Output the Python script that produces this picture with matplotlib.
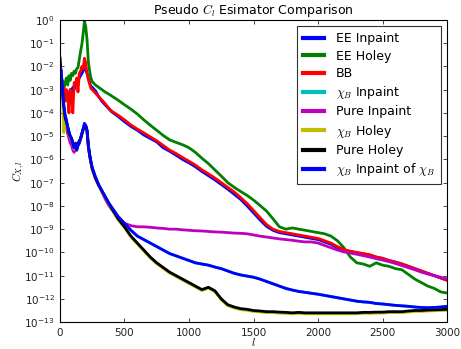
import numpy as np
import matplotlib
matplotlib.use("Agg")
import matplotlib.pyplot as plt

plt.rcParams['font.family'] = ['DejaVu Sans']
plt.rcParams['mathtext.fontset'] = 'cm'

ell = [1, 10, 20, 30, 40, 50, 60, 70, 80, 90, 100, 110, 120, 130, 140, 150, 160, 170, 180, 190,
       200, 210, 220, 230, 240, 250, 275, 300, 325, 350, 375, 400,
       450, 500, 550, 600, 650, 700, 750, 800, 850, 900, 950, 1000, 1050, 1100, 1150, 1200,
       1250, 1300, 1350, 1400, 1450, 1500, 1550, 1600, 1650, 1700, 1750, 1800, 1850, 1900,
       1950, 2000, 2050, 2100, 2150, 2200, 2250, 2300, 2350, 2400, 2450, 2500, 2550, 2600,
       2650, 2700, 2750, 2800, 2850, 2900, 2950, 3000]

# log10 of C_{X,l}
ee_inpaint = [-3.3, -2.9, -3.2, -3.1, -3.4, -3.1, -3.3, -3.2, -3.0, -3.1,
              -2.9, -3.0, -2.8, -2.7, -2.6, -2.5, -2.4, -2.3, -2.2, -2.0,
              -2.1, -2.3, -2.5, -2.7, -2.85, -2.9,
              -3.05, -3.3, -3.5, -3.65, -3.8, -3.95,
              -4.15, -4.38, -4.58, -4.75, -4.95, -5.1, -5.25, -5.5, -5.65, -5.82,
              -6.0, -6.15, -6.32, -6.52, -6.7, -6.88, -7.08, -7.28, -7.5, -7.72,
              -8.0, -8.3, -8.6, -8.88, -9.05, -9.15, -9.2, -9.25, -9.3, -9.35,
              -9.4, -9.45, -9.55, -9.65, -9.8, -9.9, -9.97, -10.02, -10.07, -10.12,
              -10.2, -10.27, -10.35, -10.42, -10.5, -10.6, -10.7, -10.8, -10.9, -11.0,
              -11.1, -11.2]

ee_holey = [-2.6, -2.9, -2.6, -3.0, -2.7, -2.5, -2.8, -2.4, -2.6, -2.3,
            -2.4, -2.2, -2.3, -2.1, -2.05, -1.7, -1.35, -1.05, -0.6, -0.05,
            -0.3, -0.85, -1.8, -2.2, -2.5, -2.65,
            -2.8, -2.9, -3.0, -3.1, -3.18, -3.27,
            -3.45, -3.65, -3.84, -4.05, -4.3, -4.53, -4.75, -4.97, -5.16, -5.27,
            -5.37, -5.5, -5.7, -5.95, -6.18, -6.45, -6.72, -7.0, -7.2, -7.38,
            -7.55, -7.75, -7.98, -8.22, -8.55, -8.9, -9.0, -8.95, -9.0, -9.05,
            -9.1, -9.15, -9.2, -9.3, -9.5, -9.8, -10.2, -10.45, -10.5, -10.6,
            -10.45, -10.55, -10.6, -10.7, -10.75, -10.95, -11.15, -11.3, -11.45, -11.55,
            -11.7, -11.75]

bb = [-3.0, -2.8, -3.3, -2.9, -3.5, -3.0, -3.3, -4.0, -3.0, -3.2,
      -4.0, -2.7, -2.8, -2.5, -3.1, -2.3, -2.2, -2.0, -2.1, -1.65,
      -1.85, -2.3, -2.55, -2.75, -2.95, -3.0,
      -3.15, -3.3, -3.45, -3.6, -3.78, -3.92,
      -4.1, -4.3, -4.52, -4.7, -4.86, -5.03, -5.2, -5.4, -5.6, -5.75,
      -5.92, -6.08, -6.25, -6.45, -6.62, -6.8, -7.0, -7.2, -7.4, -7.64,
      -7.9, -8.2, -8.5, -8.8, -9.0, -9.1, -9.15, -9.2, -9.25, -9.3,
      -9.35, -9.4, -9.5, -9.6, -9.75, -9.88, -9.95, -10.0, -10.05, -10.1,
      -10.2, -10.25, -10.35, -10.42, -10.5, -10.6, -10.7, -10.8, -10.9, -11.0,
      -11.1, -11.2]

chib_inpaint_of_chib = [-2.0, -2.2, -3.0, -3.7, -4.1, -4.3, -4.6, -4.8, -5.0, -5.1,
                        -5.3, -5.5, -5.3, -5.6, -5.4, -5.3, -5.1, -4.9, -4.7, -4.45,
                        -4.55, -4.75, -5.4, -5.8, -6.1, -6.35,
                        -6.75, -7.1, -7.35, -7.6, -7.85, -8.05,
                        -8.45, -8.75, -9.05, -9.3, -9.45, -9.6, -9.75, -9.9, -10.05, -10.15,
                        -10.25, -10.35, -10.45, -10.5, -10.55, -10.63, -10.7, -10.8, -10.9, -10.97,
                        -11.02, -11.07, -11.15, -11.25, -11.35, -11.45, -11.55, -11.62, -11.68, -11.72,
                        -11.76, -11.8, -11.85, -11.9, -11.95, -12.0, -12.05, -12.1, -12.13, -12.15,
                        -12.2, -12.22, -12.25, -12.28, -12.3, -12.32, -12.35, -12.37, -12.38, -12.37,
                        -12.35, -12.32]

chib_inpaint = [-2.0, -2.2, -3.0, -3.7, -4.1, -4.3, -4.6, -4.8, -5.0, -5.1,
                -5.3, -5.5, -5.3, -5.6, -5.4, -5.3, -5.1, -4.9, -4.7, -4.45,
                -4.55, -4.75, -5.4, -5.8, -6.1, -6.35,
                -6.75, -7.1, -7.35, -7.6, -7.85, -8.05,
                -8.45, -8.75, -9.05, -9.3, -9.45, -9.6, -9.75, -9.9, -10.05, -10.15,
                -10.25, -10.35, -10.45, -10.5, -10.55, -10.63, -10.7, -10.8, -10.9, -10.97,
                -11.02, -11.07, -11.15, -11.25, -11.35, -11.45, -11.55, -11.62, -11.68, -11.72,
                -11.76, -11.8, -11.85, -11.9, -11.95, -12.0, -12.05, -12.1, -12.13, -12.15,
                -12.2, -12.22, -12.25, -12.28, -12.3, -12.32, -12.35, -12.37, -12.38, -12.37,
                -12.35, -12.32]

pure_inpaint = [-2.5, -2.8, -3.3, -3.9, -4.3, -4.6, -4.9, -5.1, -5.3, -5.4,
                -5.6, -5.7, -5.5, -5.6, -5.4, -5.3, -5.1, -4.9, -4.7, -4.5,
                -4.6, -4.8, -5.45, -5.85, -6.15, -6.4,
                -6.8, -7.1, -7.4, -7.7, -7.95, -8.15,
                -8.5, -8.75, -8.85, -8.9, -8.9, -8.92, -8.95, -8.97, -9.0, -9.0,
                -9.03, -9.05, -9.07, -9.08, -9.1, -9.12, -9.13, -9.15, -9.17, -9.18,
                -9.2, -9.25, -9.3, -9.34, -9.38, -9.42, -9.45, -9.48, -9.52, -9.55,
                -9.55, -9.6, -9.7, -9.8, -9.9, -9.98, -10.03, -10.08, -10.14, -10.2,
                -10.27, -10.33, -10.4, -10.48, -10.57, -10.66, -10.75, -10.85, -10.93, -11.0,
                -11.07, -11.15]

chib_holey = [-1.7, -2.45, -3.05, -4.85, -4.25, -4.45, -4.65, -4.95, -5.05, -5.15,
              -5.35, -5.55, -5.55, -5.45, -5.35, -5.25, -5.15, -4.95, -4.75, -4.6,
              -4.6, -4.8, -5.45, -5.85, -6.15, -6.45,
              -6.84, -7.14, -7.39, -7.64, -7.89, -8.14,
              -8.59, -8.94, -9.34, -9.64, -9.94, -10.24, -10.49, -10.69, -10.89, -11.04,
              -11.19, -11.34, -11.49, -11.64, -11.54, -11.69, -12.04, -12.29, -12.39, -12.46,
              -12.49, -12.54, -12.56, -12.59, -12.59, -12.61, -12.62, -12.64, -12.62, -12.64,
              -12.64, -12.64, -12.64, -12.64, -12.64, -12.64, -12.64, -12.64, -12.62, -12.62,
              -12.61, -12.61, -12.59, -12.59, -12.59, -12.56, -12.54, -12.54, -12.52, -12.51,
              -12.5, -12.49]

pure_holey = [-1.65, -2.4, -3.0, -3.7, -4.2, -4.4, -4.6, -4.9, -5.0, -5.1,
              -5.3, -5.5, -5.5, -5.4, -5.3, -5.2, -5.1, -4.9, -4.7, -4.55,
              -4.55, -4.75, -5.4, -5.8, -6.1, -6.4,
              -6.8, -7.1, -7.35, -7.6, -7.85, -8.1,
              -8.55, -8.9, -9.3, -9.6, -9.9, -10.2, -10.45, -10.65, -10.85, -11.0,
              -11.15, -11.3, -11.45, -11.6, -11.5, -11.65, -12.0, -12.25, -12.35, -12.42,
              -12.45, -12.5, -12.52, -12.55, -12.55, -12.57, -12.58, -12.6, -12.58, -12.6,
              -12.6, -12.6, -12.6, -12.6, -12.6, -12.6, -12.6, -12.6, -12.58, -12.58,
              -12.57, -12.57, -12.55, -12.55, -12.55, -12.52, -12.5, -12.5, -12.48, -12.47,
              -12.46, -12.45]

labels = ['EE Inpaint', 'EE Holey', 'BB', r'$\chi_B$ Inpaint', 'Pure Inpaint',
          r'$\chi_B$ Holey', 'Pure Holey', r'$\chi_B$ Inpaint of $\chi_B$']
series = [ee_inpaint, ee_holey, bb, chib_inpaint, pure_inpaint, chib_holey, pure_holey,
          chib_inpaint_of_chib]
colors = ['b', 'g', 'r', 'c', 'm', 'y', 'k', 'b']

fig = plt.figure(figsize=(4.61, 3.49), dpi=100)
ax = fig.add_axes([0.130, 0.077, 0.840, 0.866])

for vals, lab, col in zip(series, labels, colors):
    ax.plot(ell, np.power(10.0, vals), color=col, lw=2.0, label=lab)

ax.set_yscale('log')
ax.set_xlim(0, 3000)
ax.set_ylim(1e-13, 1e0)
ax.set_yticks([10.0 ** k for k in range(-13, 1)])
ax.minorticks_off()
ax.tick_params(direction='in', top=True, right=True, length=3, width=0.6,
               labelsize=7.5, pad=4, colors='#222222')
for s in ax.spines.values():
    s.set_linewidth(0.8)

ax.set_title(r'Pseudo $C_l$ Esimator Comparison', fontsize=9, pad=4)
ax.set_xlabel(r'$l$', fontsize=8, labelpad=-1)
ax.set_ylabel(r'$C_{X,l}$', fontsize=8, labelpad=-2)

leg = ax.legend(loc='upper right', fontsize=9, fancybox=False, framealpha=1,
                edgecolor='#333333', borderaxespad=0.5, labelspacing=0.34,
                handlelength=1.7, handletextpad=0.9, borderpad=0.5)
leg.get_frame().set_linewidth(0.8)
for ln in leg.get_lines():
    ln.set_linewidth(3)

fig.savefig('out.png', dpi=100)
